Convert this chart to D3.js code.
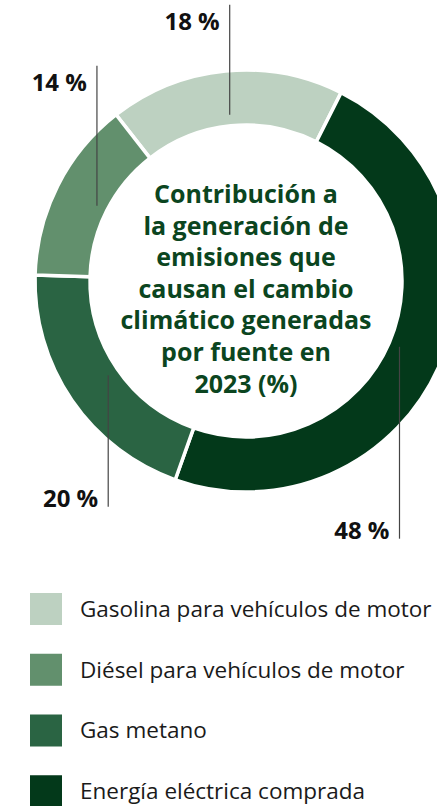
<!DOCTYPE html>
<html><head><meta charset="utf-8">
<script src="https://cdn.jsdelivr.net/npm/d3@7"></script>
<style>body{margin:0;background:#fff} svg{display:block}</style>
</head><body>
<script>
// Data (clockwise order as drawn, starting near the top)
const categories = ["Gasolina para vehículos de motor", "Energía eléctrica comprada", "Gas metano", "Diésel para vehículos de motor"];
const values = [18, 48, 20, 14];
const labels = ["18 %", "48 %", "20 %", "14 %"];
const sliceColors = ["#bdd1c1", "#03391a", "#2a6443", "#62906d"];
const legendOrder = ["Gasolina para vehículos de motor", "Diésel para vehículos de motor", "Gas metano", "Energía eléctrica comprada"];
const titleLines = ["Contribución a", "la generación de", "emisiones que", "causan el cambio", "climático generadas", "por fuente en", "2023 (%)"];

const W = 437, H = 806;
const cx = 246, cy = 281, rOuter = 211, rInner = 156;
const startDeg = -38;

const svg = d3.select("body").append("svg").attr("width", W).attr("height", H);
const color = d3.scaleOrdinal().domain(categories).range(sliceColors);

const pie = d3.pie().sort(null).value(d => d.value)
  .startAngle(startDeg * Math.PI / 180).endAngle(startDeg * Math.PI / 180 + 2 * Math.PI);
const data = categories.map((c, i) => ({ cat: c, value: values[i], label: labels[i] }));
const arcs = pie(data);
const arc = d3.arc().innerRadius(rInner).outerRadius(rOuter);

const g = svg.append("g").attr("transform", `translate(${cx},${cy})`);
g.selectAll("path.slice").data(arcs).join("path")
  .attr("class", "slice")
  .attr("d", arc)
  .attr("fill", d => color(d.data.cat))
  .attr("stroke", "#fff").attr("stroke-width", 3.5).attr("stroke-linejoin", "miter");

// Leader lines and labels: the leader runs vertically from the slice until the
// label clears the ring by a fixed margin.
const anchorR = 167, margin = 66, gapX = 10;
arcs.forEach(d => {
  const a = (d.startAngle + d.endAngle) / 2;
  const x = anchorR * Math.sin(a), y = -anchorR * Math.cos(a);
  const up = Math.cos(a) > 0;
  const t = g.append("text").attr("x", x - gapX)
    .attr("text-anchor", "end")
    .attr("font-family", "'Open Sans', sans-serif").attr("font-weight", 700)
    .attr("font-size", 24).attr("fill", "#111")
    .text(d.data.label);
  const w = t.node().getComputedTextLength();
  const left = x - gapX - w, right = x;
  const nearest = (left <= 0 && right >= 0) ? 0 : Math.min(Math.abs(left), Math.abs(right));
  const edge = Math.sqrt(Math.max(0, rOuter * rOuter - nearest * nearest));
  const yEnd = up ? -edge - margin : edge + margin;
  t.attr("y", up ? yEnd + 25 : yEnd);
  g.insert("line", "text").attr("x1", x).attr("x2", x).attr("y1", y).attr("y2", yEnd)
    .attr("stroke", "#444").attr("stroke-width", 1.2);
});

// Centre title
const lh = 31.6, firstBase = 203 - cy;
g.append("text").attr("text-anchor", "middle")
  .attr("font-family", "'Open Sans', sans-serif").attr("font-weight", 700)
  .attr("font-size", 25).attr("fill", "#0b4520")
  .selectAll("tspan").data(titleLines).join("tspan")
  .attr("x", 0).attr("y", (d, i) => firstBase + i * lh).text(d => d);

// Legend
const legY = d3.scaleBand().domain(legendOrder).range([578, 821]).paddingInner(0);
const lg = svg.append("g");
const items = lg.selectAll("g").data(legendOrder).join("g")
  .attr("transform", d => `translate(30,${legY(d) + 15})`);
items.append("rect").attr("width", 32).attr("height", 32).attr("fill", d => color(d));
items.append("text").attr("x", 50).attr("y", 16).attr("dy", "0.35em")
  .attr("font-family", "'Open Sans', sans-serif").attr("font-size", 22.5).attr("fill", "#1a1a1a")
  .text(d => d);
</script>
</body></html>
